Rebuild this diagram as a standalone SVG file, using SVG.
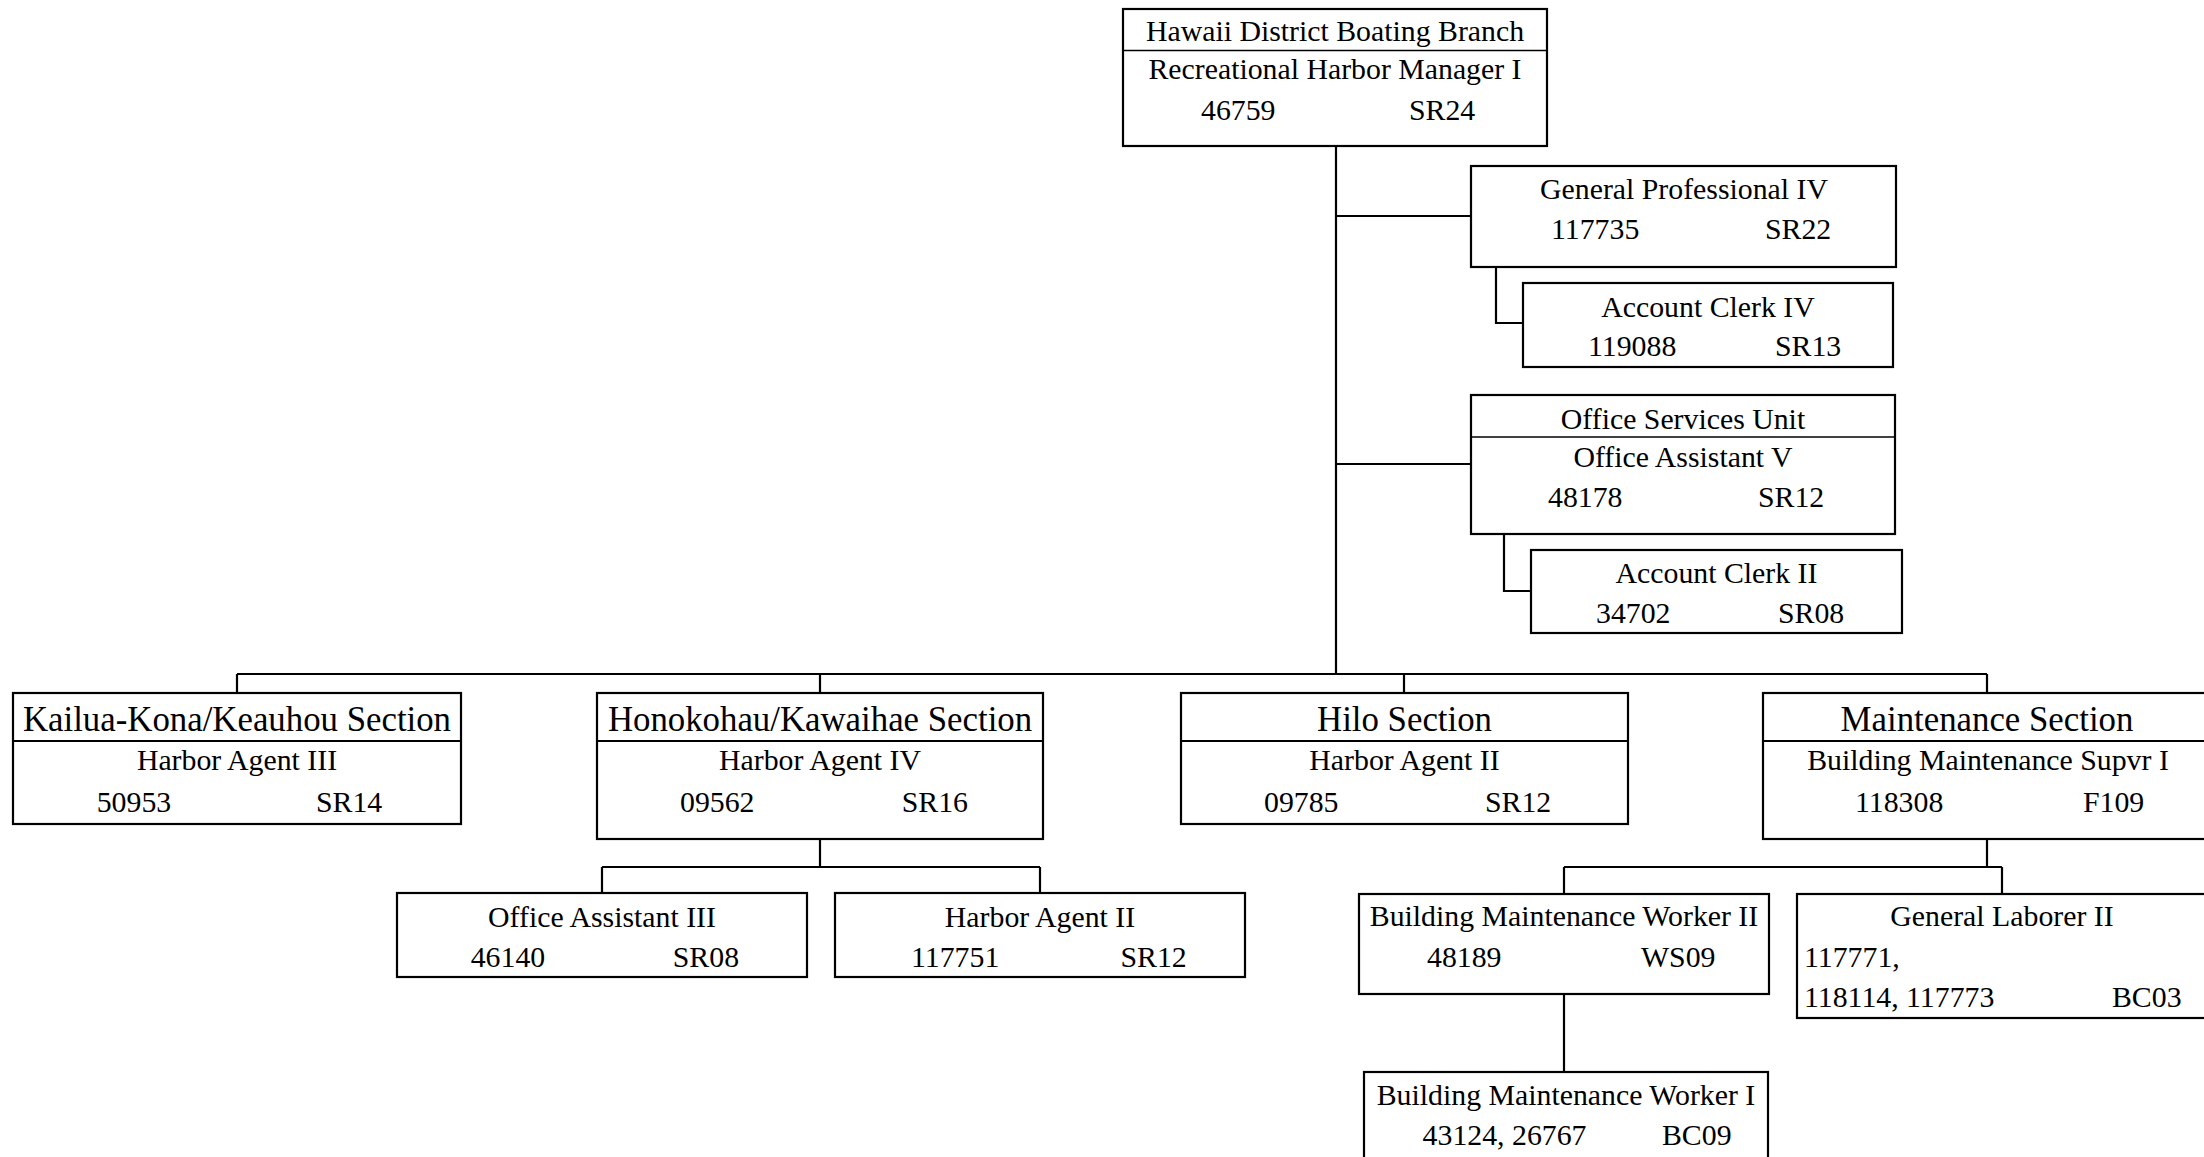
<svg xmlns="http://www.w3.org/2000/svg" width="2204" height="1157" viewBox="0 0 2204 1157">
<style>
  .box { fill: #ffffff; stroke: #000000; stroke-width: 2.2; }
  .div { stroke: #000000; stroke-width: 1.6; fill: none; }
  .div2 { stroke: #000000; stroke-width: 2.2; fill: none; }
  .conn { stroke: #000000; stroke-width: 2.2; fill: none; }
  text { font-family: "Liberation Serif", "Times New Roman", serif; font-size: 29.8px; fill: #000000; }
  .c { text-anchor: middle; }
  .h { font-size: 34.8px; }
</style>
<rect x="0" y="0" width="2204" height="1157" fill="#ffffff"/>
<g id="connectors">
  <path class="conn" d="M1336 146 V674"/>
  <path class="conn" d="M237 674 H1987"/>
  <path class="conn" d="M237 674 V693 M820 674 V693 M1404 674 V693 M1987 674 V693"/>
  <path class="conn" d="M1336 216 H1471"/>
  <path class="conn" d="M1496 267 V323 H1523"/>
  <path class="conn" d="M1336 464 H1471"/>
  <path class="conn" d="M1504 534 V591 H1531"/>
  <path class="conn" d="M820 839 V867 M602 867 H1040 M602 867 V893 M1040 867 V893"/>
  <path class="conn" d="M1987 839 V867 M1564 867 H2002 M1564 867 V894 M2002 867 V894"/>
  <path class="conn" d="M1564 994 V1072"/>
</g>
<g id="node-branch">
  <rect class="box" x="1123" y="9" width="424" height="137"/>
  <line class="div" x1="1123" y1="50.5" x2="1547" y2="50.5"/>
  <text class="c" x="1335" y="40.7">Hawaii District Boating Branch</text>
  <text class="c" x="1335" y="79">Recreational Harbor Manager I</text>
  <text x="1201" y="120">46759</text>
  <text x="1409" y="120">SR24</text>
</g>
<g id="node-gp4">
  <rect class="box" x="1471" y="166" width="425" height="101"/>
  <text class="c" x="1684" y="199">General Professional IV</text>
  <text x="1551" y="239">117735</text>
  <text x="1765" y="239">SR22</text>
</g>
<g id="node-ac4">
  <rect class="box" x="1523" y="283" width="370" height="84"/>
  <text class="c" x="1708" y="316.7">Account Clerk IV</text>
  <text x="1588" y="355.5">119088</text>
  <text x="1775" y="355.5">SR13</text>
</g>
<g id="node-osu">
  <rect class="box" x="1471" y="395" width="424" height="139"/>
  <line class="div" x1="1471" y1="437" x2="1895" y2="437"/>
  <text class="c" x="1683" y="429">Office Services Unit</text>
  <text class="c" x="1683" y="467">Office Assistant V</text>
  <text x="1548" y="507">48178</text>
  <text x="1758" y="507">SR12</text>
</g>
<g id="node-ac2">
  <rect class="box" x="1531" y="550" width="371" height="83"/>
  <text class="c" x="1716.5" y="583">Account Clerk II</text>
  <text x="1596" y="623">34702</text>
  <text x="1778" y="623">SR08</text>
</g>
<g id="node-kailua">
  <rect class="box" x="13" y="693" width="448" height="131"/>
  <line class="div2" x1="13" y1="741" x2="461" y2="741"/>
  <text class="c h" x="237" y="730.5">Kailua-Kona/Keauhou Section</text>
  <text class="c" x="237" y="770">Harbor Agent III</text>
  <text x="96.7" y="811.7">50953</text>
  <text x="316" y="811.7">SR14</text>
</g>
<g id="node-honokohau">
  <rect class="box" x="597" y="693" width="446" height="146"/>
  <line class="div2" x1="597" y1="741" x2="1043" y2="741"/>
  <text class="c h" x="820" y="730.5">Honokohau/Kawaihae Section</text>
  <text class="c" x="820" y="770">Harbor Agent IV</text>
  <text x="680" y="811.7">09562</text>
  <text x="901.7" y="811.7">SR16</text>
</g>
<g id="node-hilo">
  <rect class="box" x="1181" y="693" width="447" height="131"/>
  <line class="div2" x1="1181" y1="741" x2="1628" y2="741"/>
  <text class="c h" x="1404.5" y="730.5">Hilo Section</text>
  <text class="c" x="1404.5" y="770">Harbor Agent II</text>
  <text x="1264" y="811.7">09785</text>
  <text x="1485" y="811.7">SR12</text>
</g>
<g id="node-maintenance">
  <rect class="box" x="1763" y="693" width="448" height="146"/>
  <line class="div2" x1="1763" y1="741" x2="2211" y2="741"/>
  <text class="c h" x="1987" y="730.5">Maintenance Section</text>
  <text class="c" x="1988" y="770">Building Maintenance Supvr I</text>
  <text x="1855" y="811.7">118308</text>
  <text x="2083" y="811.7">F109</text>
</g>
<g id="node-oa3">
  <rect class="box" x="397" y="893" width="410" height="84"/>
  <text class="c" x="602" y="927">Office Assistant III</text>
  <text x="470.7" y="967">46140</text>
  <text x="672.8" y="967">SR08</text>
</g>
<g id="node-ha2">
  <rect class="box" x="835" y="893" width="410" height="84"/>
  <text class="c" x="1040" y="927">Harbor Agent II</text>
  <text x="911" y="967">117751</text>
  <text x="1120.5" y="967">SR12</text>
</g>
<g id="node-bmw2">
  <rect class="box" x="1359" y="894" width="410" height="100"/>
  <text class="c" x="1564" y="926">Building Maintenance Worker II</text>
  <text x="1427" y="967">48189</text>
  <text x="1641" y="967">WS09</text>
</g>
<g id="node-gl2">
  <rect class="box" x="1797" y="894" width="410" height="124"/>
  <text class="c" x="2002" y="926">General Laborer II</text>
  <text x="1804" y="967">117771,</text>
  <text x="1804" y="1007">118114, 117773</text>
  <text x="2112" y="1007">BC03</text>
</g>
<g id="node-bmw1">
  <rect class="box" x="1364" y="1072" width="404" height="100"/>
  <text class="c" x="1566" y="1105">Building Maintenance Worker I</text>
  <text x="1422.6" y="1145">43124, 26767</text>
  <text x="1662" y="1145">BC09</text>
</g>
</svg>
